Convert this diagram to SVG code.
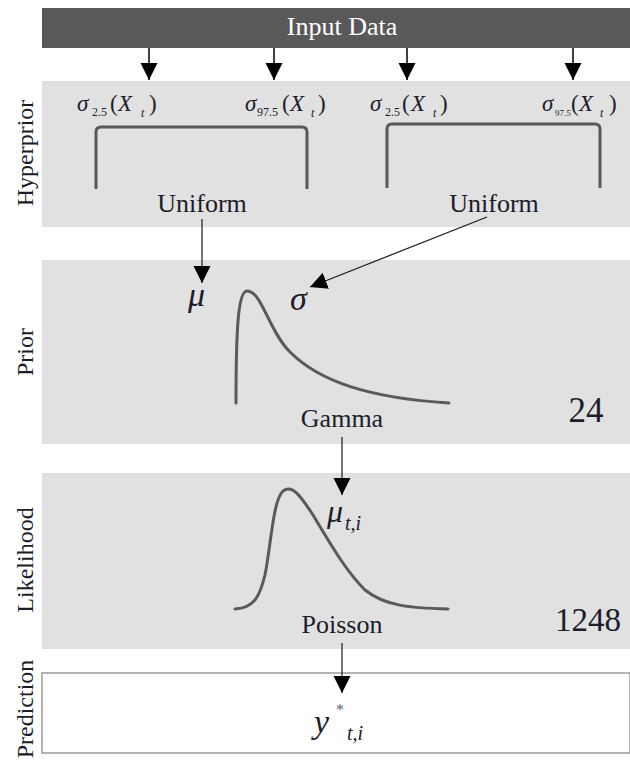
<svg xmlns="http://www.w3.org/2000/svg" width="630" height="761" viewBox="0 0 630 761" font-family="'Liberation Serif', 'DejaVu Serif', serif">
<style>
text{font-family:'Liberation Serif','DejaVu Serif',serif;fill:#1c1c2a}
.panel{fill:#e1e1e1}
.side{font-size:24px}
.lbl{font-size:26px;text-anchor:middle}
.big{text-anchor:middle}
.it{font-style:italic}
.sym{font-size:23px}
.sub{font-size:12px}
.conn{stroke:#000;stroke-width:1.5;fill:none}
.thin{stroke:#1a1a1a;stroke-width:1.2;fill:none}
.curve{stroke:#5a5a5a;stroke-width:3;fill:none;stroke-linecap:round}
</style>
<defs>
<marker id="ah" markerUnits="userSpaceOnUse" markerWidth="18" markerHeight="18" refX="17" refY="8.5" orient="auto">
<path d="M0,0 L17,8.5 L0,17 Z" fill="#000"/>
</marker>
</defs>

<g id="input">
<rect x="42" y="8" width="588" height="40" fill="#595959"/>
<text x="342" y="35" font-family="Liberation Serif" style="fill:#fff;font-size:26px;text-anchor:middle">Input Data</text>
</g>

<g id="hyperprior">
<rect class="panel" x="42" y="81" width="588" height="146"/>
<text class="side" transform="translate(33,153) rotate(-90)" text-anchor="middle">Hyperprior</text>
<text class="sym"><tspan class="it" x="77" y="111">σ</tspan><tspan class="sub" x="92" y="116">2.5</tspan><tspan x="110" y="111">(</tspan><tspan class="it" x="118" y="111">X</tspan><tspan class="sub it" x="141" y="117">t</tspan><tspan x="149" y="111">)</tspan></text>
<text class="sym"><tspan class="it" x="245" y="111">σ</tspan><tspan class="sub" x="257" y="116">97.5</tspan><tspan x="282" y="111">(</tspan><tspan class="it" x="290" y="111">X</tspan><tspan class="sub it" x="311" y="117">t</tspan><tspan x="318" y="111">)</tspan></text>
<text class="sym"><tspan class="it" x="370" y="111">σ</tspan><tspan class="sub" x="385" y="116">2.5</tspan><tspan x="402" y="111">(</tspan><tspan class="it" x="411" y="111">X</tspan><tspan class="sub it" x="433" y="117">t</tspan><tspan x="440" y="111">)</tspan></text>
<text class="sym"><tspan class="it" x="542" y="111">σ</tspan><tspan x="555" y="116" style="font-size:9px">97.5</tspan><tspan x="571" y="111">(</tspan><tspan class="it" x="579" y="111">X</tspan><tspan class="sub it" x="600" y="117">t</tspan><tspan x="609" y="111">)</tspan></text>
<path d="M96,189 V132 Q96,127 101,127 H302 Q307,127 307,132 V189" stroke="#595959" stroke-width="3" fill="none"/>
<path d="M387,188 V129 Q387,124 392,124 H595 Q600,124 600,129 V188" stroke="#595959" stroke-width="3" fill="none"/>
<text class="lbl" x="202" y="212">Uniform</text>
<text class="lbl" x="494" y="212">Uniform</text>
</g>

<g id="prior">
<rect class="panel" x="42" y="260" width="588" height="184"/>
<text class="side" transform="translate(33,352) rotate(-90)" text-anchor="middle">Prior</text>
<text class="it" x="188" y="306" style="font-size:34px">μ</text>
<text class="it" x="290" y="310" style="font-size:34px">σ</text>
<path class="curve" d="M236,403 C236,330 238,291 247,291 C262,291 268,330 290,352 C320,382 370,398 449,403"/>
<text class="lbl" x="342" y="427">Gamma</text>
<text class="big" x="586" y="422" style="font-size:35px">24</text>
</g>

<g id="likelihood">
<rect class="panel" x="42" y="473" width="588" height="176"/>
<text class="side" transform="translate(33,560) rotate(-90)" text-anchor="middle">Likelihood</text>
<path class="curve" d="M235,609 C255,608 260,595 265,575 C271,545 273,500 283,491 C292,484 300,495 313,515 C330,543 345,570 365,590 C385,606 410,608 448,609"/>
<text><tspan class="it" x="327" y="522" style="font-size:32px">μ</tspan><tspan class="it" x="345" y="530" style="font-size:20px">t,i</tspan></text>
<text class="lbl" x="342" y="633">Poisson</text>
<text class="big" x="588" y="631" style="font-size:33px">1248</text>
</g>

<g id="prediction">
<rect x="42" y="673" width="588" height="80" fill="#fff" stroke="#9a9a9a" stroke-width="1.5"/>
<text class="side" transform="translate(33,709) rotate(-90)" text-anchor="middle">Prediction</text>
<text><tspan class="it" x="314" y="733" style="font-size:34px">y</tspan><tspan x="336" y="715" style="font-size:16px;fill:#6a5a7a">*</tspan><tspan class="it" x="347" y="740" style="font-size:20px">t,i</tspan></text>
</g>

<g id="connectors">
<line class="conn" x1="149" y1="48" x2="149" y2="80" marker-end="url(#ah)"/>
<line class="conn" x1="274" y1="48" x2="274" y2="80" marker-end="url(#ah)"/>
<line class="conn" x1="407" y1="48" x2="407" y2="80" marker-end="url(#ah)"/>
<line class="conn" x1="573" y1="48" x2="573" y2="80" marker-end="url(#ah)"/>
<line class="thin" x1="202" y1="219" x2="202" y2="283" marker-end="url(#ah)"/>
<line class="thin" x1="487" y1="217" x2="310" y2="287" marker-end="url(#ah)"/>
<line class="thin" x1="342" y1="437" x2="342" y2="495" marker-end="url(#ah)"/>
<line class="thin" x1="342" y1="643" x2="342" y2="693" marker-end="url(#ah)"/>
</g>
</svg>
